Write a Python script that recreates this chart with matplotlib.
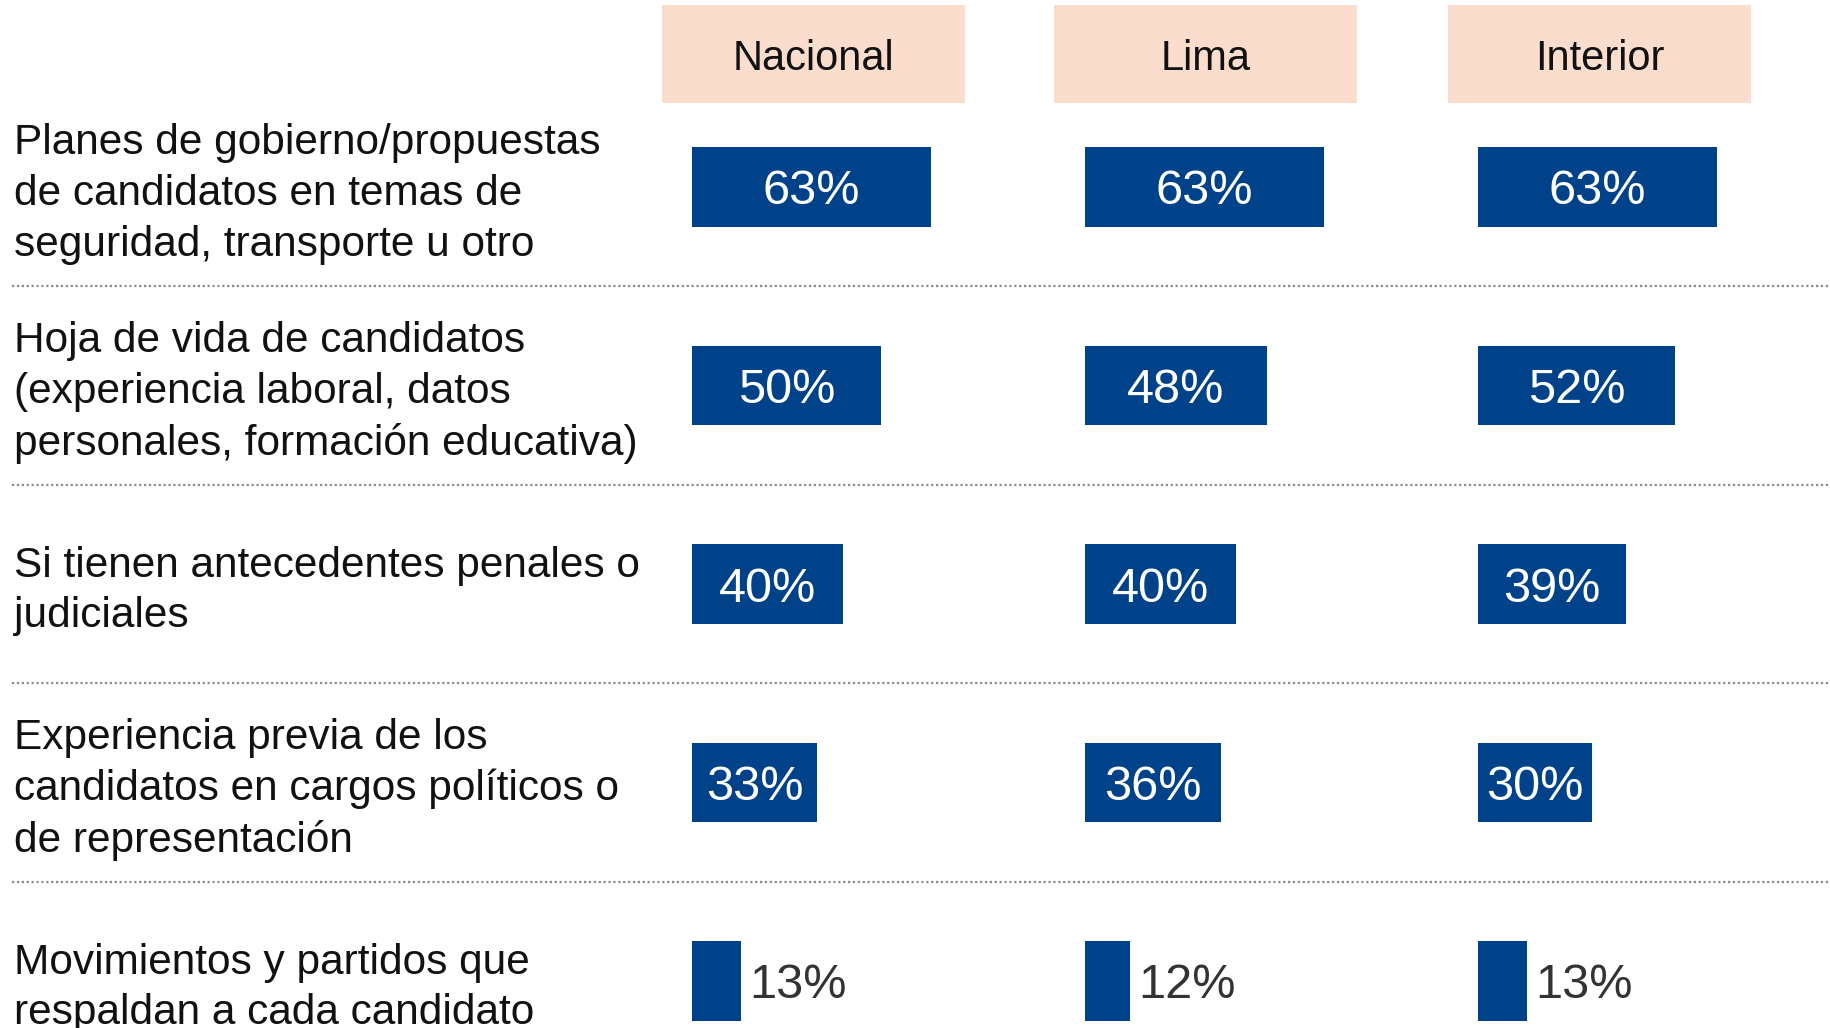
import numpy as np
import matplotlib.pyplot as plt

plt.rcParams['font.family'] = ['Liberation Sans', 'DejaVu Sans']

categories = [
    "Planes de gobierno/propuestas\nde candidatos en temas de\nseguridad, transporte u otro",
    "Hoja de vida de candidatos\n(experiencia laboral, datos\npersonales, formación educativa)",
    "Si tienen antecedentes penales o\njudiciales",
    "Experiencia previa de los\ncandidatos en cargos políticos o\nde representación",
    "Movimientos y partidos que\nrespaldan a cada candidato",
]
regions = ["Nacional", "Lima", "Interior"]
nacional = [63, 50, 40, 33, 13]
lima = [63, 48, 40, 36, 12]
interior = [63, 52, 39, 30, 13]
series = [nacional, lima, interior]

BAR_COLOR = '#00428A'
HEAD_COLOR = '#FADDCC'
W, H = 1831, 1028

# row layout: first row centre at 187 px from top, 198.5 px pitch
row_top = -187 / 198.5
row_bottom = (H - 187) / 198.5
ylim = (row_bottom, row_top)
rows = np.arange(len(categories))

fig = plt.figure(figsize=(W / 100, H / 100), dpi=100)

# background axes: category labels and dotted separators
bg = fig.add_axes([0, 0, 1, 1])
bg.set_xlim(0, 1)
bg.set_ylim(*ylim)
bg.axis('off')
for i, cat in enumerate(categories):
    bg.text(14 / W, i + 0.035, cat, ha='left', va='center', fontsize=30.5,
            color='#111111', linespacing=1.35)
for i in rows[:-1]:
    bg.axhline(i + 0.5, xmin=12 / W, xmax=1, color='#8c8c8c',
               linestyle=(0, (1, 1.2)), linewidth=1.6)

bar_left = [692, 1085, 1478]
head_left = [662, 1054, 1448]
for k, (name, vals) in enumerate(zip(regions, series)):
    # header box
    hax = fig.add_axes([head_left[k] / W, (H - 103) / H, 303 / W, 98 / H])
    hax.set_facecolor(HEAD_COLOR)
    hax.set_xticks([])
    hax.set_yticks([])
    for s in hax.spines.values():
        s.set_visible(False)
    hax.text(0.5, 0.5, name, ha='center', va='center_baseline', fontsize=30,
             color='#111111', transform=hax.transAxes)

    # bars
    ax = fig.add_axes([bar_left[k] / W, 0, 284 / W, 1])
    ax.set_xlim(0, 75)
    ax.set_ylim(*ylim)
    ax.axis('off')
    ax.patch.set_alpha(0)
    ax.barh(rows, vals, height=0.4, color=BAR_COLOR)
    for i, v in enumerate(vals):
        if v >= 20:
            ax.text(v / 2, i, f"{v}%", ha='center', va='center_baseline',
                    fontsize=35, color='white')
        else:
            ax.text(v + 2, i, f"{v}%", ha='left', va='center_baseline',
                    fontsize=35, color='#333333')

fig.savefig('out.png', dpi=100)
